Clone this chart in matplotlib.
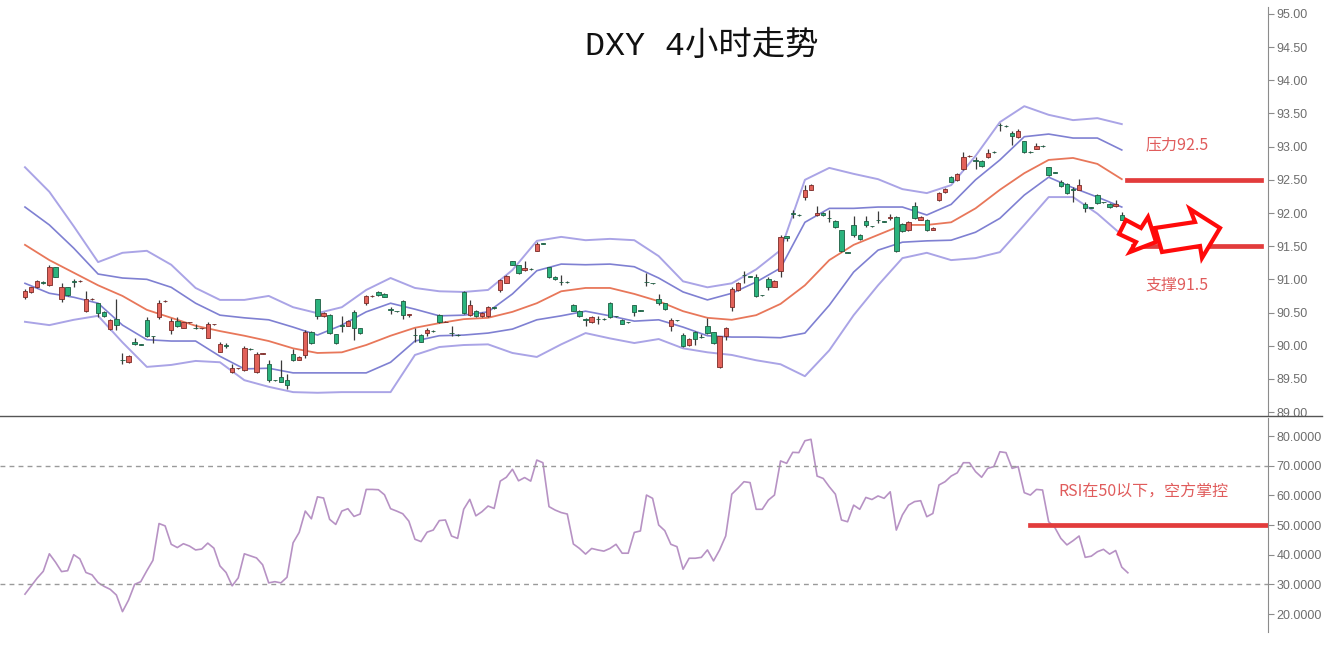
import numpy as np
import matplotlib
matplotlib.use("Agg")
import matplotlib.pyplot as plt
from matplotlib.patches import Polygon
from matplotlib.lines import Line2D

plt.rcParams['font.family'] = ['Liberation Sans', 'Noto Sans CJK SC']

# DXY 4h candles, oldest first
opens = [90.74, 90.81, 90.88, 90.96, 90.91, 91.18, 90.70, 90.88, 90.97, 90.97,
         90.52, 90.70, 90.64, 90.51, 90.25, 90.40, 89.79, 89.75, 90.05, 90.02,
         90.39, 90.145, 90.43, 90.67, 90.23, 90.37, 90.27, 90.35, 90.265, 90.26,
         90.12, 90.32, 89.91, 90.005, 89.60, 89.66, 89.63, 89.955, 89.60, 89.88,
         89.72, 89.485, 89.53, 89.48, 89.87, 89.79, 89.86, 90.21, 90.70, 90.44,
         90.47, 90.17, 90.305, 90.30, 90.51, 90.26, 90.65, 90.745, 90.81, 90.78,
         90.545, 90.525, 90.67, 90.47, 90.165, 90.16, 90.19, 90.225, 90.47, 90.355,
         90.195, 90.165, 90.81, 90.46, 90.53, 90.44, 90.44, 90.575, 90.84, 90.95,
         91.27, 91.21, 91.14, 91.155, 91.43, 91.545, 91.18, 91.04, 90.965, 90.965,
         90.62, 90.53, 90.395, 90.35, 90.405, 90.405, 90.65, 90.445, 90.39, 90.355,
         90.61, 90.535, 90.965, 90.945, 90.70, 90.64, 90.29, 90.385, 90.16, 90.01,
         90.21, 90.135, 90.29, 90.20, 89.68, 90.14, 90.58, 90.84, 91.065, 91.045,
         91.03, 90.765, 91.00, 90.89, 91.13, 91.65, 91.995, 91.975, 92.24, 92.35,
         91.97, 92.00, 91.925, 91.88, 91.74, 91.405, 91.82, 91.67, 91.88, 91.805,
         91.895, 91.875, 91.92, 91.94, 91.84, 91.74, 92.10, 91.90, 91.90, 91.75,
         92.19, 92.31, 92.55, 92.49, 92.66, 92.855, 92.795, 92.79, 92.84, 92.925,
         93.325, 93.315, 93.20, 93.14, 93.08, 92.925, 92.97, 93.015, 92.69, 92.615,
         92.47, 92.44, 92.355, 92.35, 92.14, 92.085, 92.27, 92.165, 92.14, 92.10,
         91.97]
highs = [90.86, 90.89, 90.99, 90.98, 91.21, 91.19, 90.94, 90.89, 91.01, 90.99,
         90.83, 90.72, 90.65, 90.52, 90.40, 90.70, 89.89, 89.86, 90.12, 90.03,
         90.43, 90.15, 90.69, 90.69, 90.41, 90.43, 90.36, 90.36, 90.33, 90.27,
         90.36, 90.33, 90.06, 90.04, 89.73, 89.67, 89.99, 89.96, 89.91, 89.89,
         89.78, 89.49, 89.78, 89.57, 89.95, 89.84, 90.24, 90.22, 90.71, 90.51,
         90.48, 90.18, 90.44, 90.38, 90.54, 90.27, 90.76, 90.76, 90.82, 90.79,
         90.58, 90.53, 90.69, 90.475, 90.26, 90.17, 90.26, 90.24, 90.48, 90.365,
         90.29, 90.17, 90.82, 90.69, 90.54, 90.51, 90.60, 90.58, 91.01, 91.06,
         91.28, 91.22, 91.27, 91.17, 91.57, 91.55, 91.19, 91.05, 91.06, 90.97,
         90.63, 90.54, 90.41, 90.44, 90.44, 90.41, 90.66, 90.45, 90.40, 90.36,
         90.62, 90.54, 91.09, 90.95, 90.78, 90.65, 90.41, 90.39, 90.19, 90.11,
         90.22, 90.17, 90.41, 90.21, 90.15, 90.28, 90.89, 90.96, 91.13, 91.05,
         91.08, 90.77, 91.04, 90.99, 91.67, 91.66, 92.05, 91.98, 92.42, 92.43,
         92.10, 92.01, 92.04, 91.89, 91.75, 91.41, 91.95, 91.68, 91.95, 91.81,
         92.03, 91.88, 91.98, 91.95, 91.85, 91.88, 92.17, 91.95, 91.91, 91.79,
         92.31, 92.37, 92.56, 92.60, 92.92, 92.87, 92.85, 92.80, 92.96, 92.93,
         93.35, 93.32, 93.23, 93.26, 93.09, 92.93, 93.05, 93.02, 92.70, 92.62,
         92.50, 92.45, 92.39, 92.52, 92.17, 92.09, 92.28, 92.17, 92.15, 92.20,
         92.02]
lows = [90.71, 90.80, 90.87, 90.93, 90.90, 91.03, 90.66, 90.75, 90.89, 90.96,
        90.51, 90.69, 90.43, 90.43, 90.24, 90.24, 89.73, 89.74, 90.01, 90.01,
        90.13, 90.04, 90.40, 90.66, 90.18, 90.28, 90.26, 90.34, 90.25, 90.25,
        90.11, 90.31, 89.90, 89.97, 89.59, 89.65, 89.62, 89.94, 89.59, 89.87,
        89.46, 89.47, 89.45, 89.34, 89.77, 89.78, 89.82, 90.03, 90.40, 90.43,
        90.18, 90.03, 90.21, 90.29, 90.09, 90.18, 90.62, 90.74, 90.75, 90.73,
        90.48, 90.51, 90.40, 90.43, 90.06, 90.05, 90.14, 90.20, 90.34, 90.35,
        90.14, 90.15, 90.48, 90.44, 90.43, 90.43, 90.43, 90.56, 90.81, 90.94,
        91.21, 91.08, 91.12, 91.14, 91.42, 91.53, 91.02, 90.99, 90.91, 90.95,
        90.52, 90.43, 90.29, 90.34, 90.33, 90.39, 90.42, 90.43, 90.32, 90.34,
        90.44, 90.52, 90.90, 90.93, 90.61, 90.54, 90.22, 90.37, 89.98, 90.00,
        90.01, 90.12, 90.18, 90.03, 89.67, 90.09, 90.53, 90.83, 90.94, 91.03,
        90.74, 90.75, 90.84, 90.88, 91.04, 91.58, 91.92, 91.96, 92.20, 92.34,
        91.96, 91.96, 91.87, 91.78, 91.41, 91.39, 91.64, 91.60, 91.79, 91.79,
        91.85, 91.86, 91.89, 91.41, 91.72, 91.73, 91.91, 91.89, 91.73, 91.74,
        92.18, 92.30, 92.46, 92.48, 92.65, 92.85, 92.67, 92.70, 92.83, 92.91,
        93.23, 93.30, 93.03, 93.13, 92.90, 92.91, 92.96, 93.00, 92.56, 92.60,
        92.39, 92.29, 92.17, 92.34, 92.02, 92.07, 92.14, 92.15, 92.08, 92.09,
        91.89]
closes = [90.83, 90.88, 90.97, 90.95, 91.18, 91.04, 90.88, 90.76, 90.96, 90.98,
          90.70, 90.71, 90.50, 90.44, 90.39, 90.31, 89.78, 89.85, 90.03, 90.01,
          90.14, 90.14, 90.64, 90.68, 90.37, 90.29, 90.35, 90.355, 90.26, 90.265,
          90.32, 90.325, 90.02, 90.00, 89.66, 89.665, 89.96, 89.95, 89.88, 89.885,
          89.48, 89.48, 89.46, 89.40, 89.78, 89.83, 90.21, 90.04, 90.44, 90.50,
          90.19, 90.04, 90.30, 90.37, 90.26, 90.19, 90.75, 90.75, 90.76, 90.74,
          90.54, 90.52, 90.46, 90.47, 90.16, 90.06, 90.23, 90.22, 90.35, 90.36,
          90.19, 90.16, 90.49, 90.61, 90.44, 90.50, 90.58, 90.57, 90.99, 91.05,
          91.22, 91.09, 91.17, 91.15, 91.54, 91.54, 91.03, 91.00, 90.96, 90.96,
          90.53, 90.44, 90.39, 90.43, 90.40, 90.40, 90.43, 90.44, 90.33, 90.35,
          90.51, 90.53, 90.96, 90.94, 90.64, 90.55, 90.39, 90.38, 89.99, 90.10,
          90.10, 90.13, 90.19, 90.04, 90.14, 90.27, 90.85, 90.95, 91.06, 91.04,
          90.75, 90.76, 90.88, 90.98, 91.64, 91.62, 91.99, 91.97, 92.35, 92.42,
          92.00, 91.97, 91.92, 91.79, 91.42, 91.40, 91.67, 91.61, 91.82, 91.80,
          91.89, 91.87, 91.94, 91.42, 91.73, 91.87, 91.92, 91.94, 91.75, 91.78,
          92.30, 92.36, 92.47, 92.59, 92.84, 92.86, 92.79, 92.71, 92.91, 92.92,
          93.32, 93.31, 93.16, 93.23, 92.92, 92.92, 93.01, 93.01, 92.57, 92.61,
          92.41, 92.30, 92.35, 92.42, 92.07, 92.08, 92.15, 92.16, 92.09, 92.14,
          91.90]

# double bollinger bands, read every 4th bar
band_idx = np.arange(0, 181, 4)
bb_upper2 = [92.69, 92.32, 91.80, 91.26, 91.40, 91.43, 91.22, 90.87, 90.69, 90.69,
             90.75, 90.58, 90.49, 90.58, 90.84, 91.02, 90.87, 90.82, 90.81, 90.84,
             91.14, 91.58, 91.64, 91.59, 91.61, 91.59, 91.35, 90.97, 90.88, 90.94,
             91.15, 91.44, 92.50, 92.68, 92.59, 92.51, 92.36, 92.30, 92.42, 92.86,
             93.37, 93.61, 93.48, 93.40, 93.43, 93.34]
bb_upper1 = [92.09, 91.82, 91.47, 91.08, 91.02, 91.00, 90.88, 90.64, 90.46, 90.42,
             90.39, 90.28, 90.16, 90.31, 90.51, 90.64, 90.55, 90.45, 90.46, 90.51,
             90.78, 91.13, 91.23, 91.22, 91.23, 91.19, 91.02, 90.81, 90.69, 90.79,
             90.96, 91.17, 91.86, 92.07, 92.07, 92.09, 92.09, 91.97, 92.13, 92.50,
             92.80, 93.15, 93.19, 93.13, 93.13, 92.95]
bb_mid = [91.52, 91.29, 91.10, 90.91, 90.75, 90.54, 90.42, 90.30, 90.22, 90.15,
          90.07, 89.96, 89.89, 89.90, 90.01, 90.15, 90.27, 90.34, 90.40, 90.42,
          90.51, 90.64, 90.82, 90.87, 90.87, 90.78, 90.67, 90.52, 90.42, 90.39,
          90.46, 90.63, 90.91, 91.29, 91.52, 91.67, 91.82, 91.82, 91.86, 92.07,
          92.35, 92.60, 92.80, 92.83, 92.74, 92.51]
bb_lower1 = [90.94, 90.79, 90.73, 90.64, 90.31, 90.09, 90.07, 90.07, 89.84, 89.65,
             89.66, 89.59, 89.59, 89.59, 89.59, 89.75, 90.07, 90.15, 90.16, 90.19,
             90.25, 90.39, 90.45, 90.52, 90.45, 90.37, 90.39, 90.28, 90.15, 90.13,
             90.13, 90.12, 90.19, 90.61, 91.11, 91.44, 91.56, 91.58, 91.59, 91.71,
             91.92, 92.27, 92.54, 92.38, 92.24, 92.09]
bb_lower2 = [90.36, 90.31, 90.39, 90.45, 90.05, 89.68, 89.71, 89.77, 89.75, 89.48,
             89.38, 89.30, 89.29, 89.30, 89.30, 89.30, 89.86, 89.98, 90.01, 90.02,
             89.89, 89.83, 90.02, 90.19, 90.11, 90.04, 90.10, 89.96, 89.90, 89.86,
             89.78, 89.72, 89.54, 89.93, 90.46, 90.91, 91.32, 91.40, 91.29, 91.32,
             91.41, 91.82, 92.24, 92.24, 91.99, 91.67]

rsi = [26.7, 29.4, 32.1, 34.4, 40.3, 37.5, 34.3, 34.6, 40.0, 38.6,
       34.0, 33.2, 30.6, 29.3, 28.3, 26.4, 20.8, 24.7, 30.0, 30.9,
       34.6, 38.1, 50.5, 49.7, 43.5, 42.4, 43.7, 42.9, 41.6, 41.9,
       43.9, 42.2, 36.2, 34.0, 29.5, 32.2, 40.3, 39.6, 38.9, 36.6,
       30.5, 30.9, 30.5, 32.4, 44.0, 47.5, 54.7, 52.1, 59.5, 59.1,
       51.9, 50.2, 54.7, 55.5, 52.9, 53.7, 62.0, 62.0, 61.9, 60.2,
       55.5, 54.7, 53.8, 51.3, 45.2, 44.4, 47.6, 48.3, 51.5, 51.7,
       46.3, 45.5, 55.3, 58.65, 53.1, 54.5, 56.4, 55.6, 64.8, 66.1,
       68.8, 64.9, 66.0, 64.8, 71.9, 71.0, 56.2, 55.05, 54.2, 53.7,
       43.6, 42.1, 40.2, 42.1, 41.6, 41.2, 42.1, 43.5, 40.5, 40.5,
       47.5, 48.0, 60.1, 59.0, 50.0, 48.1, 43.5, 42.7, 35.1, 38.8,
       38.8, 39.1, 41.6, 37.9, 41.6, 46.3, 60.4, 62.4, 64.6, 64.3,
       55.3, 55.3, 58.4, 60.1, 71.6, 70.8, 74.5, 74.4, 78.4, 78.9,
       66.5, 65.7, 62.9, 60.4, 51.7, 51.1, 56.7, 55.3, 59.3, 58.6,
       59.8, 59.0, 61.2, 48.3, 53.4, 56.7, 57.9, 58.2, 52.8, 53.9,
       63.5, 64.6, 66.5, 67.6, 71.0, 71.0, 68.0, 66.1, 69.1, 69.7,
       74.7, 74.4, 69.1, 69.7, 60.9, 60.1, 62.0, 61.8, 51.1, 49.2,
       45.5, 43.3, 44.7, 46.3, 39.1, 39.5, 41.0, 41.8, 40.2, 41.4,
       35.8, 33.9]

resistance = 92.5
support = 91.5
rsi_mid = 50

UP = '#e2625a'
DOWN = '#2bb37d'
ANNOT = '#e05c5c'
AXC = '#8c8c8c'


def px(x, y):
    # figure pixel -> figure fraction (image is 1330x650)
    return (x / 1330.0, 1 - y / 650.0)


def style_axis(ax):
    for s in ['top', 'left', 'bottom']:
        ax.spines[s].set_visible(False)
    ax.spines['right'].set_color(AXC)
    ax.yaxis.tick_right()
    ax.set_xticks([])
    ax.tick_params(axis='y', direction='out', length=4, color=AXC,
                   labelcolor='#6e6e6e', labelsize=9, pad=2)
    ax.set_xlim(-4.1, 204.0)


fig = plt.figure(figsize=(13.3, 6.5), dpi=100)
ax1 = fig.add_axes([0, 0.36, 1268 / 1330, 0.6292])
ax2 = fig.add_axes([0, 0.0277, 1268 / 1330, 0.3292])

# --- price panel ---
o = np.array(opens); h = np.array(highs); l = np.array(lows); c = np.array(closes)
idx = np.arange(len(o))
up = c >= o
cols = np.where(up, UP, DOWN)
edges = np.where(up, '#7a2b27', '#1d5e42')
ax1.vlines(idx, l, h, colors='#3a3a3a', lw=0.9, zorder=2)
body = np.maximum(np.abs(c - o), 0.007)
ax1.bar(idx, body, bottom=np.minimum(o, c), width=0.72, color=cols,
        edgecolor=edges, linewidth=0.6, zorder=3)

ax1.plot(band_idx, bb_upper2, color='#aaa4e6', lw=1.4, zorder=1)
ax1.plot(band_idx, bb_lower2, color='#aaa4e6', lw=1.4, zorder=1)
ax1.plot(band_idx, bb_upper1, color='#7f80d2', lw=1.2, zorder=1)
ax1.plot(band_idx, bb_lower1, color='#7f80d2', lw=1.2, zorder=1)
ax1.plot(band_idx, bb_mid, color='#e8775a', lw=1.3, zorder=1)

ax1.axhline(resistance, xmin=1127 / 1268, xmax=1261 / 1268, color='#e23c3c', lw=3.4)
ax1.axhline(support, xmin=1133 / 1268, xmax=1261 / 1268, color='#e23c3c', lw=3.4)

style_axis(ax1)
ax1.set_ylim(88.94, 95.105)
ax1.set_yticks(np.arange(89, 95.01, 0.5))
ax1.yaxis.set_major_formatter(matplotlib.ticker.FormatStrFormatter('%.2f'))

# --- RSI panel ---
ax2.plot(np.arange(len(rsi)), rsi, color='#b792c4', lw=1.2)
ax2.axhline(70, color='#9a9a9a', lw=1, dashes=(3.5, 3))
ax2.axhline(30, color='#9a9a9a', lw=1, dashes=(3.5, 3))
ax2.axhline(rsi_mid, xmin=1030 / 1268, xmax=1.0, color='#e23c3c', lw=3.4)
style_axis(ax2)
ax2.set_ylim(13.94, 86.07)
ax2.set_yticks(np.arange(20, 81, 10))
ax2.yaxis.set_major_formatter(matplotlib.ticker.FormatStrFormatter('%.4f'))

# separator between panels
fig.add_artist(Line2D([0, 1322 / 1330], [px(0, 416)[1]] * 2,
                      transform=fig.transFigure, color='#555555', lw=1))

# hollow red arrows next to the last bars
arrow1 = [(1119, 234), (1126, 220), (1141, 228), (1148, 217), (1156, 242),
          (1130, 252), (1136, 242)]
arrow2 = [(1155, 228), (1195, 222), (1190, 209), (1220, 228), (1202, 258),
          (1200, 246), (1162, 252)]
for pts in (arrow1, arrow2):
    fig.add_artist(Polygon([px(x, y) for x, y in pts], closed=True,
                           transform=fig.transFigure, facecolor='white',
                           edgecolor='#ff0a0a', lw=3, joinstyle='miter', zorder=5))

# texts
fig.text(*px(702, 46), 'DXY 4小时走势', ha='center', va='center', fontsize=24,
         family=['Liberation Mono', 'Noto Sans CJK SC'], color='#111111')
fig.text(*px(1177, 145), '压力92.5', ha='center', va='center', fontsize=11.5,
         color=ANNOT, family=['Noto Sans CJK SC'])
fig.text(*px(1177, 285), '支撑91.5', ha='center', va='center', fontsize=11.5,
         color=ANNOT, family=['Noto Sans CJK SC'])
fig.text(*px(1143, 492), 'RSI在50以下，空方掌控', ha='center', va='center',
         fontsize=11.5, color=ANNOT, family=['Noto Sans CJK SC'])

fig.savefig('out.png', dpi=100)
